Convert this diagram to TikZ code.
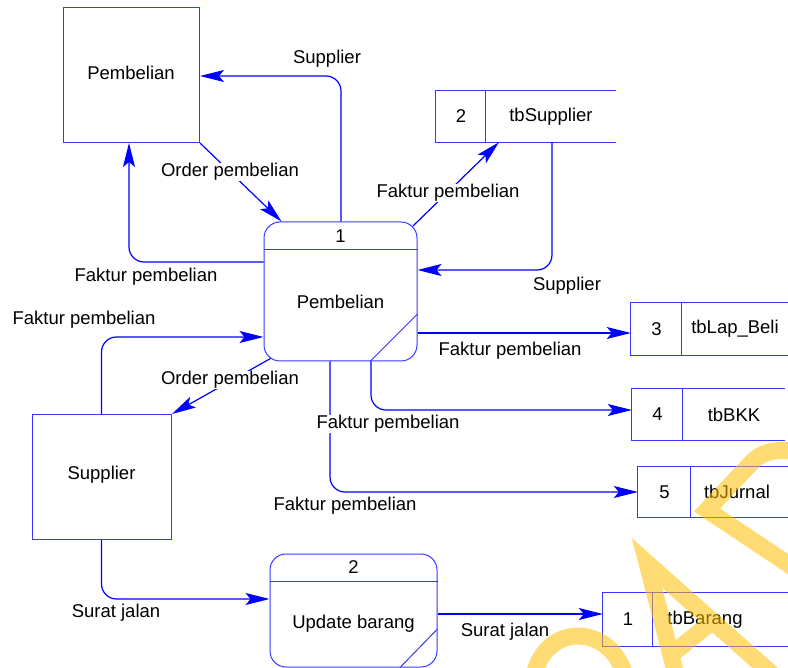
\documentclass[tikz,border=0pt]{standalone}
\usepackage{fontspec}
\setmainfont{Liberation Sans}
\usetikzlibrary{arrows.meta,calc}
\definecolor{dfd}{RGB}{0,0,255}
\definecolor{dfdbox}{RGB}{55,55,255}
\definecolor{wmark}{RGB}{255,190,0}
\tikzset{
  dfdfont/.style={font=\fontsize{18.5pt}{22pt}\selectfont},
  lbl/.style={dfdfont, inner sep=0.5pt, fill=white, text=black},
  txt/.style={dfdfont, inner sep=0pt, text=black},
  entity/.style={draw=dfdbox, line width=1pt, inner sep=0pt},
  proc/.style={draw=dfdbox, line width=1pt, rounded corners=16pt, inner sep=0pt},
  store/.style={inner sep=0pt},
  storeline/.style={draw=dfdbox, line width=1pt},
  flow/.style={draw=dfd, line width=1.2pt, rounded corners=15pt,
    -{Stealth[length=24pt,width=12pt,inset=5pt]}},
  wm/.style={draw=wmark, line width=17pt, line join=round}
}
\begin{document}
\begin{tikzpicture}[x=1pt,y=-1pt]
\useasboundingbox (0,0) rectangle (788,668);

% external entities
\node[entity, minimum width=136pt, minimum height=135pt] (pemb) at (131.5,75) {};
\node[txt] (pembname) at (131,72.5) {Pembelian};
\node[entity, minimum width=139pt, minimum height=125pt] (sup) at (102,477) {};
\node[txt] (supname) at (101.5,475) {Supplier};

% processes
\node[proc, minimum width=153pt, minimum height=139pt] (p1) at (340.5,291.5) {};
\draw[storeline] ([yshift=-28pt]p1.north west) -- ([yshift=-28pt]p1.north east);
\draw[storeline] ([yshift=-22.5pt]p1.east) -- ([xshift=29.5pt]p1.south);
\node[txt] (p1num) at ([yshift=-15pt]p1.north) {1};
\node[txt] (p1name) at ([yshift=-10.5pt]p1.center) {Pembelian};

\node[proc, minimum width=167pt, minimum height=113pt] (p2) at (353.5,610.5) {};
\draw[storeline] ([yshift=-28pt]p2.north west) -- ([yshift=-28pt]p2.north east);
\draw[storeline] ([yshift=-18.5pt]p2.east) -- ([xshift=46.5pt]p2.south);
\node[txt] (p2num) at ([yshift=-14pt]p2.north) {2};
\node[txt] (p2name) at ([yshift=-13.5pt]p2.center) {Update barang};

% data stores
\node[store, minimum width=180pt, minimum height=51pt] (s2) at (526,116.5) {};
\draw[storeline] (s2.north east) -- (s2.north west) -- (s2.south west) -- (s2.south east);
\draw[storeline] ([xshift=50pt]s2.north west) -- ([xshift=50pt]s2.south west);
\node[txt] (s2num) at (461,116.5) {2};
\node[txt] (s2name) at (551,116.5) {tbSupplier};

\node[store, minimum width=164pt, minimum height=52pt] (s3) at (713,329) {};
\draw[storeline] (s3.north east) -- (s3.north west) -- (s3.south west) -- (s3.south east);
\draw[storeline] ([xshift=51pt]s3.north west) -- ([xshift=51pt]s3.south west);
\node[txt] (s3num) at (656.5,329) {3};
\node[txt] (s3name) at (735,329) {tbLap\_Beli};

\node[store, minimum width=153pt, minimum height=51pt] (s4) at (708.5,414.5) {};
\draw[storeline] (s4.north east) -- (s4.north west) -- (s4.south west) -- (s4.south east);
\draw[storeline] ([xshift=51pt]s4.north west) -- ([xshift=51pt]s4.south west);
\node[txt] (s4num) at (657.5,414.5) {4};
\node[txt] (s4name) at (734,414.5) {tbBKK};

\node[store, minimum width=157pt, minimum height=50pt] (s5) at (716.5,492) {};
\draw[storeline] (s5.north east) -- (s5.north west) -- (s5.south west) -- (s5.south east);
\draw[storeline] ([xshift=53pt]s5.north west) -- ([xshift=53pt]s5.south west);
\node[txt] (s5num) at (664.5,492) {5};
\node[txt] (s5name) at (737,492) {tbJurnal};

\node[store, minimum width=192pt, minimum height=53pt] (s1) at (699,619.5) {};
\draw[storeline] (s1.north east) -- (s1.north west) -- (s1.south west) -- (s1.south east);
\draw[storeline] ([xshift=50pt]s1.north west) -- ([xshift=50pt]s1.south west);
\node[txt] (s1num) at (628,619.5) {1};
\node[txt] (s1name) at (705,619.5) {tbBarang};

% data flows
\coordinate (s3in) at ([yshift=-4pt]s3.west);
\coordinate (s4in) at ([yshift=4.5pt]s4.west);
\coordinate (s1in) at ([yshift=5.5pt]s1.west);

\draw[flow] ([xshift=0.5pt]p1.north) |- ([yshift=-1pt]pemb.east);
\draw[flow] (pemb.south east) -- ([xshift=18pt]p1.north west);
\draw[flow] ([yshift=29.5pt]p1.west) -| ([xshift=-2.5pt]pemb.south);
\draw[flow] ([xshift=-4.5pt,yshift=-4.5pt]p1.north east) -- ([xshift=-27pt]s2.south);
\draw[flow] ([xshift=26pt]s2.south) |- ([yshift=21.5pt]p1.east);
\draw[flow] (p1.east |- s3in) -- (s3in);
\draw[flow] ([xshift=30.5pt]p1.south) |- (s4in);
\draw[flow] ([xshift=-10.5pt]p1.south) |- (s5.west);
\draw[flow] ([xshift=-0.5pt]sup.north) |- ([yshift=-45.5pt]p1.west);
\draw[flow] ([xshift=7pt,yshift=3pt]p1.south west) -- (sup.north east);
\draw[flow] ([xshift=-0.5pt]sup.south) |- ([yshift=11.5pt]p2.west);
\draw[flow] (p2.east |- s1in) -- (s1in);

% flow labels
\node[lbl] (f1) at (327,59) {Supplier};
\node[lbl] (f2) at (230,172) {Order pembelian};
\node[lbl] (f3) at (146,277) {Faktur pembelian};
\node[lbl] (f4) at (448,193) {Faktur pembelian};
\node[lbl] (f5) at (567,286) {Supplier};
\node[lbl] (f6) at (510,351) {Faktur pembelian};
\node[lbl] (f7) at (388,424) {Faktur pembelian};
\node[lbl] (f8) at (345,506) {Faktur pembelian};
\node[lbl] (f9) at (84,320) {Faktur pembelian};
\node[lbl] (f10) at (230,380) {Order pembelian};
\node[lbl] (f11) at (116,613) {Surat jalan};
\node[lbl] (f12) at (505,632) {Surat jalan};

% watermark strokes, composited as one translucent layer
\begin{scope}[transparency group, opacity=0.55]
  \draw[wm] (532,690) .. controls (535,618) and (620,618) .. (628,690);
  \draw[wm, line join=miter] (680,690) -- (647,563) -- (790,690);
  \draw[wm] (713,621) -- (672,654);
  \draw[wm, line join=miter] (800,452) .. controls (775,448) and (762,452) .. (752,462)
    -- (707,510) -- (800,572);
\end{scope}
\end{tikzpicture}
\end{document}
